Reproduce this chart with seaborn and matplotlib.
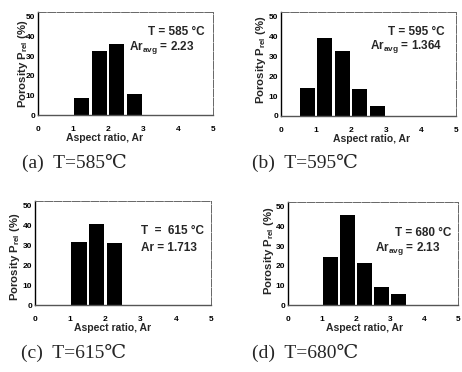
import matplotlib
matplotlib.use("Agg")
import matplotlib.pyplot as plt
import seaborn as sns
import pandas as pd

# Bin centres (aspect ratio) and porosity fractions (%) for each temperature
ar_a = [1.25, 1.75, 2.25, 2.75]
por_a = [8.7, 32.6, 36.0, 10.7]

ar_b = [0.75, 1.25, 1.75, 2.25, 2.75]
por_b = [14.0, 39.4, 33.0, 13.6, 5.0]

ar_c = [1.25, 1.75, 2.25]
por_c = [31.8, 41.0, 31.3]

ar_d = [1.25, 1.75, 2.25, 2.75, 3.25]
por_d = [24.5, 45.8, 21.4, 9.4, 5.7]

temps = ["585", "595", "615", "680"]
ar_labels = [r"$\mathbf{Ar_{avg}}$ = 2.23", r"$\mathbf{Ar_{avg}}$ = 1.364",
             "Ar = 1.713", r"$\mathbf{Ar_{avg}}$ = 2.13"]
captions = ["(a)  T=585℃", "(b)  T=595℃", "(c)  T=615℃", "(d)  T=680℃"]
xticks = [0, 1, 2, 3, 4, 5]
yticks = [0, 10, 20, 30, 40, 50]

sns.set_theme(style="white")
plt.rcParams["font.family"] = ["Liberation Sans", "DejaVu Sans"]
plt.rcParams["mathtext.fontset"] = "custom"
plt.rcParams["mathtext.rm"] = "Liberation Sans:bold"
plt.rcParams["mathtext.bf"] = "Liberation Sans:bold"
plt.rcParams["mathtext.it"] = "Liberation Sans:bold"

W, H = 462, 372
fig = plt.figure(figsize=(W / 100, H / 100), dpi=100)

# axes boxes in pixels: left, right, top, bottom
boxes = [(38, 213, 12, 115), (281, 456, 12, 116),
         (35, 211, 201, 305), (288, 458, 202, 305)]
# annotation anchors in axes fraction: (T text), (Ar text)
ann = [((0.63, 0.81), (0.52, 0.66)),
       ((0.61, 0.81), (0.51, 0.67)),
       ((0.60, 0.71), (0.60, 0.55)),
       ((0.63, 0.70), (0.51, 0.55))]
ylab_pos = [(-0.045, 0.50), (-0.072, 0.54), (-0.072, 0.46), (-0.072, 0.53)]
xlab_x = [0.38, 0.52, 0.44, 0.45]
cap_pos = [(74, 163), (305, 163), (74, 353), (305, 353)]

data = [(ar_a, por_a), (ar_b, por_b), (ar_c, por_c), (ar_d, por_d)]

for i, ((l, r, t, b), (xs, ys)) in enumerate(zip(boxes, data)):
    ax = fig.add_axes([l / W, 1 - b / H, (r - l) / W, (b - t) / H])
    df = pd.DataFrame({"ar": xs, "por": ys})
    sns.barplot(data=df, x="ar", y="por", native_scale=True, width=0.86,
                color="black", saturation=1, edgecolor="black", linewidth=0,
                ax=ax)
    ax.set_xlim(0, 5)
    ax.set_ylim(0, 52.5)
    ax.set_xticks(xticks)
    ax.set_xticklabels([str(v) for v in xticks], fontsize=6, fontweight="bold")
    ax.set_yticks(yticks)
    ax.set_yticklabels([str(v) for v in yticks], fontsize=6, fontweight="bold")
    ax.tick_params(axis="both", direction="in", length=2, width=0.8,
                   colors="black")
    ax.tick_params(axis="x", pad=8)
    ax.tick_params(axis="y", pad=2)
    ax.set_xlabel("Aspect ratio, Ar", fontsize=7.5, fontweight="bold")
    ax.xaxis.set_label_coords(xlab_x[i], -0.17)
    ax.xaxis.label.set_va("top")
    ax.set_ylabel(r"Porosity P$_{\mathbf{rel}}$ (%)", fontsize=8.2,
                  fontweight="bold")
    ax.yaxis.set_label_coords(*ylab_pos[i])
    ax.spines["left"].set_color("black")
    ax.spines["left"].set_linewidth(1.0)
    ax.spines["bottom"].set_color("#555555")
    ax.spines["bottom"].set_linewidth(1.0)
    for s in ("top", "right"):
        ax.spines[s].set_color("#666666")
        ax.spines[s].set_linewidth(0.7)
        ax.spines[s].set_linestyle((0, (8, 1.5)))
    (tx, ty), (ax_, ay) = ann[i]
    tlabel = f"T  =  {temps[i]} °C" if i == 2 else f"T = {temps[i]} °C"
    ax.text(tx, ty, tlabel, transform=ax.transAxes, fontsize=8.5,
            fontweight="bold", va="center", ha="left")
    ax.text(ax_, ay, ar_labels[i], transform=ax.transAxes, fontsize=8.5,
            fontweight="bold", va="center", ha="left")
    cx, cy = cap_pos[i]
    fig.text(cx / W, 1 - cy / H, captions[i], fontsize=14,
             family=["Liberation Serif", "DejaVu Serif"],
             ha="center", va="center")

fig.savefig("out.png", dpi=100)
